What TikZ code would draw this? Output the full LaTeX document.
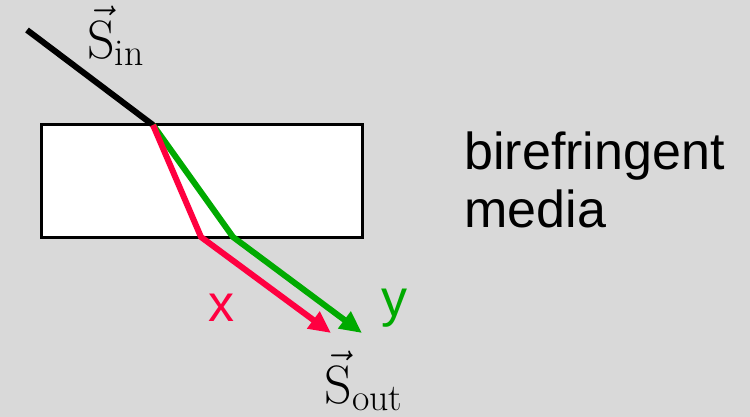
\documentclass[tikz,border=0pt]{standalone}
\usepackage{fontspec}
\setsansfont{Liberation Sans}
\definecolor{BgGray}{RGB}{217, 217, 217}
\definecolor{RayRed}{RGB}{255, 0, 64}
\definecolor{RayGreen}{RGB}{0, 170, 0}
\usetikzlibrary{arrows.meta, positioning}

\begin{document}
\begin{tikzpicture}[x=0.5pt, y=-0.5pt]
        \tikzstyle{slab} = [rectangle, draw=black, fill=white, line width=1.5pt, minimum width=160.5pt, minimum height=56pt, inner sep=0pt]
        \tikzstyle{ray} = [line width=3pt, line join=round]
        \tikzstyle{outray} = [ray, -{Triangle[length=11pt, width=10pt]}]
        \tikzstyle{label} = [font=\fontsize{26}{29}\selectfont\sffamily, inner sep=0pt]
        \tikzstyle{vecl} = [font=\fontsize{27}{30}\selectfont, inner sep=0pt]

        % Background
        \fill [BgGray] (0,0) rectangle (750,417);

        % Crystal
        \node (crystal) [slab] at (201.5,181) {};

        % Points
        \coordinate (src) at (27,30);
        \coordinate (entry) at (153,125);
        \coordinate (redbend) at (201,237);
        \coordinate (greenbend) at (233,237);
        \coordinate (redend) at (331,333);
        \coordinate (greenend) at (362,333);

        % Rays
        \draw [ray, black] (src) -- (entry);
        \draw [outray, RayGreen] (entry) -- (greenbend) -- (greenend);
        \draw [outray, RayRed] (entry) -- (redbend) -- (redend);

        % Labels
        \node (sin) [vecl] at (116,36) {$\vec{\mathrm{S}}_{\mathrm{in}}$};
        \node (sout) [vecl] at (364,381) {$\vec{\mathrm{S}}_{\mathrm{out}}$};
        \node (xlab) [label, RayRed] at (221,308) {x};
        \node (ylab) [label, RayGreen] at (394,308) {y};
        \node (media) [label, anchor=north west, align=left] at (464,131) {birefringent\\media};
    \end{tikzpicture}
\end{document}
